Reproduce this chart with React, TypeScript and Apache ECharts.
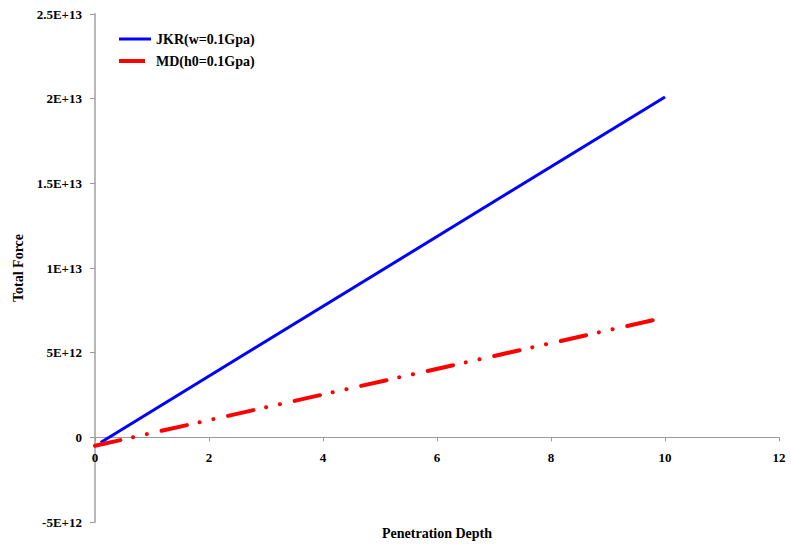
import React, { useEffect, useRef } from "react";
import * as echarts from "echarts";

// Penetration depth vs. total force, two contact models
const jkrDepth = [0.1, 10];
const jkrForce = [-3e11, 2.01e13];
const mdDepth = [0, 9.9];
const mdForce = [-5e11, 7.0e12];

const seriesNames = ["JKR(w=0.1Gpa)", "MD(h0=0.1Gpa)"];
const xTitle = "Penetration Depth";
const yTitle = "Total Force";

const Y_MIN = -5e12;
const Y_MAX = 2.5e13;

const FONT = '"Liberation Serif", "Times New Roman", serif';

const GRID = { left: 95, right: 12, top: 14, bottom: 24 };
const CHART_H = 546;

function sci(v: number): string {
  if (v === 0) return "0";
  const exp = Math.floor(Math.log10(Math.abs(v)) + 1e-9);
  const mant = Math.round((v / Math.pow(10, exp)) * 100) / 100;
  return `${mant}E+${exp}`;
}

export default function App() {
  const ref = useRef<HTMLDivElement>(null);

  useEffect(() => {
    if (!ref.current) return;
    const chart = echarts.init(ref.current, undefined, { renderer: "svg" });
    const axisText = { fontFamily: FONT, fontWeight: "bold" as const, fontSize: 13, color: "#000" };
    const titleText = { ...axisText, fontSize: 14 };
    // the x axis (line, ticks and labels) sits at y = 0
    const plotH = CHART_H - GRID.top - GRID.bottom;
    const zeroFromBottom = (plotH * (0 - Y_MIN)) / (Y_MAX - Y_MIN);
    chart.setOption({
      animation: false,
      backgroundColor: "#fff",
      grid: { ...GRID, containLabel: false, outerBoundsMode: "none" },
      legend: {
        orient: "vertical",
        left: 114,
        top: 27,
        itemWidth: 32,
        itemHeight: 4,
        itemGap: 8,
        data: [
          { name: seriesNames[0], icon: "path://M0,0 L32,0 L32,3 L0,3 Z", itemStyle: { color: "#0000ff", borderWidth: 0 } },
          { name: seriesNames[1], icon: "path://M0,0 L26,0 L26,4 L0,4 Z M32,0 L32,4", itemStyle: { color: "#ff0000", borderWidth: 0 } },
        ],
        textStyle: { ...titleText, padding: [0, 0, 0, 0], lineHeight: 14 },
      },
      xAxis: {
        type: "value",
        min: 0,
        max: 12,
        interval: 2,
        offset: -zeroFromBottom,
        name: xTitle,
        nameLocation: "middle",
        nameGap: 89,
        nameTextStyle: { ...titleText },
        axisLine: { onZero: false, lineStyle: { color: "#9a9a9a", width: 1 } },
        axisTick: { show: true, inside: false, length: 4, lineStyle: { color: "#9a9a9a" } },
        axisLabel: { ...axisText, margin: 14 },
        splitLine: { show: false },
      },
      yAxis: {
        type: "value",
        min: Y_MIN,
        max: Y_MAX,
        interval: 5e12,
        name: yTitle,
        nameLocation: "middle",
        nameGap: 63,
        nameTextStyle: { ...titleText },
        axisLine: { show: true, onZero: false, lineStyle: { color: "#b8b8b8", width: 2 } },
        axisTick: { show: true, inside: false, length: 5, lineStyle: { color: "#9a9a9a" } },
        axisLabel: { ...axisText, margin: 13, formatter: (v: number) => sci(v) },
        splitLine: { show: false },
      },
      series: [
        {
          name: seriesNames[0],
          type: "line",
          symbol: "none",
          data: jkrDepth.map((x, i) => [x, jkrForce[i]]),
          lineStyle: { color: "#0000ff", width: 3 },
          itemStyle: { color: "#0000ff" },
        },
        {
          name: seriesNames[1],
          type: "line",
          symbol: "none",
          data: mdDepth.map((x, i) => [x, mdForce[i]]),
          lineStyle: {
            color: "#ff0000",
            width: 4,
            type: [26, 13, 0.1, 14, 0.1, 15],
            cap: "round",
          },
          itemStyle: { color: "#ff0000" },
        },
      ],
    });
    return () => chart.dispose();
  }, []);

  return (
    <div
      ref={ref}
      style={{ position: "fixed", left: 0, top: 0, width: 791, height: CHART_H }}
    />
  );
}
